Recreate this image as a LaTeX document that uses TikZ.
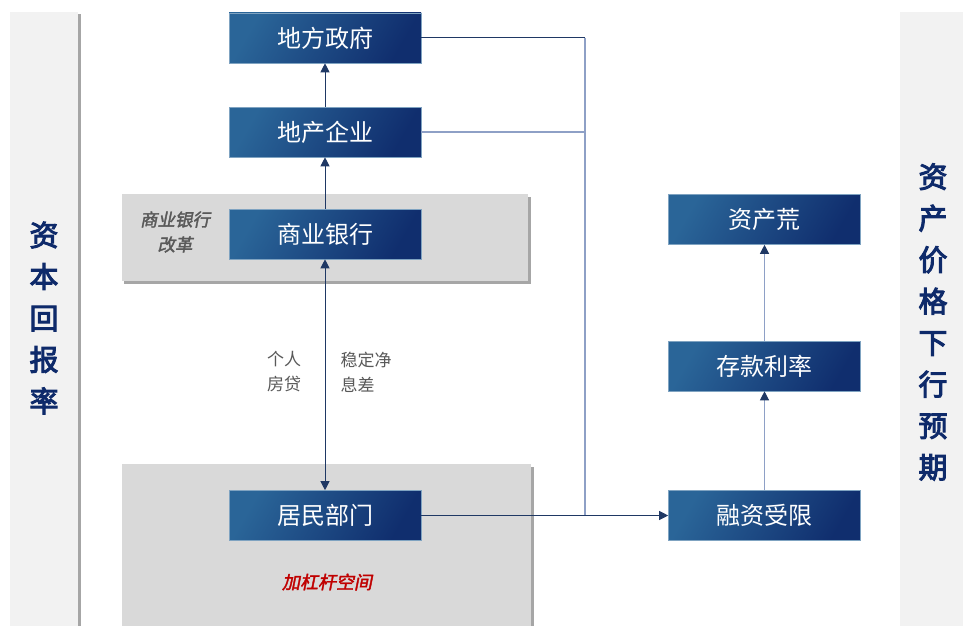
\documentclass[tikz,border=0pt]{standalone}
\usepackage{fontspec}
\setmainfont{Noto Sans CJK SC}
\newfontfamily\cjkit[FakeSlant=0.2,FakeBold=2]{Noto Sans CJK SC}
\newfontfamily\cjkbold[FakeBold=3.5]{Noto Sans CJK SC}
\usetikzlibrary{arrows.meta,positioning}
\definecolor{boxdark}{HTML}{102E6E}
\definecolor{boxlight}{HTML}{2A6598}
\definecolor{panelgray}{HTML}{D9D9D9}
\definecolor{sidegray}{HTML}{F2F2F2}
\definecolor{shadowgray}{HTML}{A6A6A6}
\definecolor{titleblue}{HTML}{0E2A6A}
\definecolor{linedark}{HTML}{1F3864}
\definecolor{linelight}{HTML}{8EA0C6}
\definecolor{redtxt}{HTML}{C00000}
\definecolor{labelgray}{HTML}{595959}
\tikzset{
  bluebox/.style={minimum width=192pt, minimum height=50pt, inner sep=0pt,
    shading=axis, left color=boxlight, right color=boxdark, shading angle=60,
    draw=boxlight!60!white, line width=0.6pt, text=white, font=\fontsize{24}{24}\selectfont},
  conn/.style={draw=linedark, line width=1pt},
  connl/.style={draw=linelight, line width=1.2pt},
  tip/.style={-{Triangle[length=9pt,width=9pt]}},
  tipd/.style={-{Triangle[length=9pt,width=9pt,color=linedark]}},
  side/.style={fill=sidegray},
  sidetxt/.style={text=titleblue, font=\cjkbold\fontsize{29}{41.5}\selectfont, align=center},
  lbl/.style={text=labelgray, font=\fontsize{17}{25}\selectfont, align=left}
}
\begin{document}
\begin{tikzpicture}[x=1pt,y=-1pt]
\useasboundingbox[fill=white] (0,0) rectangle (963,626);
% side panels
\fill[shadowgray] (12,14) rectangle (81,626);
\fill[sidegray] (10,12) rectangle (78,626);
\fill[sidegray] (900,12) rectangle (963,626);
\node[sidetxt] (lefttitle) at (44,318) {资\\本\\回\\报\\率};
\node[sidetxt] (righttitle) at (933,322) {资\\产\\价\\格\\下\\行\\预\\期};
% gray panels
\fill[shadowgray] (124,197) rectangle (531,284);
\fill[panelgray] (122,194) rectangle (528,281);
\fill[shadowgray] (124,467) rectangle (534,626);
\fill[panelgray] (122,464) rectangle (531,626);
% boxes
\node[bluebox] (gov) at (325,38) {地方政府};
\node[bluebox] (dev) at (325,132) {地产企业};
\node[bluebox] (bank) at (325,234) {商业银行};
\node[bluebox] (house) at (325,515.5) {居民部门};
\node[bluebox] (assetw) at (764.5,219.5) {资产荒};
\node[bluebox] (rate) at (764.5,366) {存款利率};
\node[bluebox] (fin) at (764.5,515.5) {融资受限};
% texts
\node[text=labelgray, font=\cjkit\fontsize{17.5}{25}\selectfont, align=center] (reform) at (175,232) {商业银行\\改革};
\node[text=redtxt, font=\cjkit\fontsize{18}{18}\selectfont] (lever) at (327,582) {加杠杆空间};
\node[lbl, align=center] (loan) at (284,372) {个人\\房贷};
\node[lbl, anchor=west] (margin) at (337,372) {稳定净\\息差};
% connectors
\coordinate (jtop) at (585,38);
\coordinate (jmid) at (585,132);
\coordinate (jbot) at (585,515.5);
\draw[connl] (jtop) -- (jbot);
\draw[conn] (gov.east) -- (jtop);
\draw[connl] (dev.east) -- (jmid);
\draw[conn,tip] (house.east) -- (fin.west);
\draw[conn,tip] (bank.north) -- (dev.south);
\draw[conn,tip] (dev.north) -- (gov.south);
\draw[conn,{Triangle[length=9pt,width=9pt]}-{Triangle[length=9pt,width=9pt]}] (house.north) -- (bank.south);
\draw[connl,tipd] (fin.north) -- (rate.south);
\draw[connl,tipd] (rate.north) -- (assetw.south);
\end{tikzpicture}
\end{document}
